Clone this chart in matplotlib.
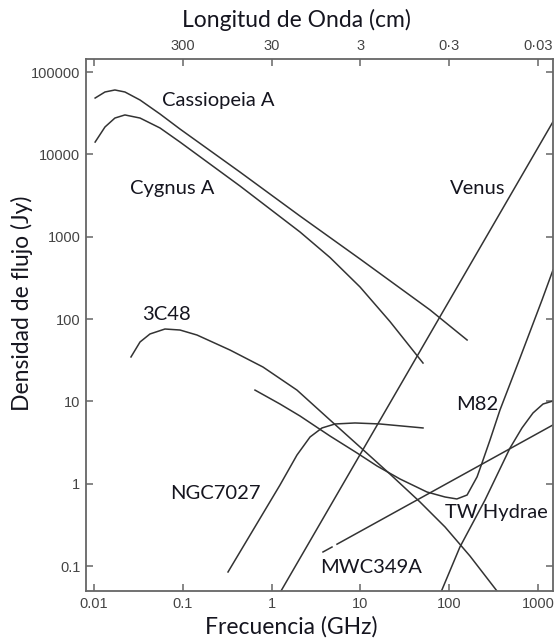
import matplotlib
matplotlib.use("Agg")
from matplotlib import pyplot as plt
from matplotlib.ticker import FixedLocator, NullLocator

plt.rcParams["font.family"] = ["Liberation Sans", "DejaVu Sans"]

# frequency (GHz) and flux density (Jy)
cas_f = [0.0103, 0.0133, 0.0172, 0.0223, 0.033, 0.0554, 0.093, 0.44, 2.09, 9.9, 60.8, 159]
cas_s = [48300, 57200, 60500, 57200, 45700, 30900, 20300, 6100, 1780, 536, 129, 55.6]

cyg_f = [0.0103, 0.0133, 0.0172, 0.0223, 0.033, 0.0554, 0.093, 0.44, 2.09, 4.55, 9.9, 21.5, 50.7]
cyg_s = [14100, 21500, 27600, 30100, 27600, 20900, 14100, 4130, 1140, 558, 245, 93.3, 29.2]

venus_f = [1.276, 1475]
venus_s = [0.0497, 24900]

c3c48_f = [0.0261, 0.033, 0.0427, 0.063, 0.093, 0.1445, 0.34, 0.80, 1.93, 4.55,
           9.9, 21.5, 46.9, 89.7, 171.5, 345]
c3c48_s = [34.6, 52.6, 65.8, 75.6, 73.5, 63.9, 42.0, 26.1, 13.7, 5.93,
           2.79, 1.31, 0.599, 0.298, 0.132, 0.0497]

m82_f = [0.65, 1.243, 2.088, 4.548, 9.157, 15.38, 27.92, 56.2, 89.7, 122, 159, 206, 234,
         288, 373, 627, 1109, 1475]
m82_s = [13.7, 9.28, 6.64, 3.79, 2.36, 1.64, 1.14, 0.792, 0.689, 0.652, 0.728, 1.21, 1.78,
         3.39, 7.85, 33.6, 170, 394]

ngc_f = [0.323, 1.243, 1.932, 2.71, 3.695, 5.18, 8.70, 16.6, 50.7]
ngc_s = [0.0846, 0.963, 2.23, 3.69, 4.75, 5.31, 5.46, 5.31, 4.75]

# small break in the line near 5 GHz
mwc_f = [3.79, 4.79, float("nan"), 5.45, 1475]
mwc_s = [0.148, 0.170, float("nan"), 0.184, 5.17]

tw_f = [82, 132, 253, 484, 660, 878, 1139, 1475]
tw_s = [0.05, 0.170, 0.633, 2.71, 4.75, 7.22, 9.28, 10.1]

labels = ["Cassiopeia A", "Cygnus A", "Venus", "3C48", "M82", "NGC7027", "TW Hydrae", "MWC349A"]
label_f = [0.0584, 0.0254, 102, 0.0347, 119, 0.0718, 89.8, 3.51]
label_s = [44500, 3900, 3900, 112, 9.28, 0.770, 0.441, 0.0946]

freq_ticks = [0.01, 0.1, 1, 10, 100, 1000]
freq_labels = ["0.01", "0.1", "1", "10", "100", "1000"]
flux_ticks = [0.1, 1, 10, 100, 1000, 10000, 100000]
flux_labels = ["0.1", "1", "10", "100", "1000", "10000", "100000"]
wave_cm = [3000, 300, 30, 3, 0.3, 0.03]
wave_labels = ["", "300", "30", "3", "0\u00b73", "0\u00b703"]

line_kw = dict(color="#333333", lw=1.1)
text_font = ["Lato", "DejaVu Sans"]
text_color = "#15151f"

fig = plt.figure(figsize=(5.56, 6.39), dpi=100)
ax = fig.add_axes([86 / 556, 48 / 639, 467 / 556, 532 / 639])

for f, s in [(cas_f, cas_s), (cyg_f, cyg_s), (venus_f, venus_s), (c3c48_f, c3c48_s),
             (m82_f, m82_s), (ngc_f, ngc_s), (mwc_f, mwc_s), (tw_f, tw_s)]:
    ax.plot(f, s, **line_kw)

for name, f, s in zip(labels, label_f, label_s):
    ax.text(f, s, name, ha="left", va="center", fontsize=14.5,
            family=text_font, color=text_color)

ax.set_xscale("log")
ax.set_yscale("log")
ax.set_xlim(0.00813, 1475)
ax.set_ylim(0.0497, 143900)

ax.xaxis.set_major_locator(FixedLocator(freq_ticks))
ax.xaxis.set_minor_locator(NullLocator())
ax.set_xticklabels(freq_labels)
ax.yaxis.set_major_locator(FixedLocator(flux_ticks))
ax.yaxis.set_minor_locator(NullLocator())
ax.set_yticklabels(flux_labels)

tick_kw = dict(direction="in", length=5, width=1.1, color="#666666",
               labelcolor="#444444", labelsize=10.5, pad=4)
ax.tick_params(axis="both", which="major", right=True, **tick_kw)

for sp in ax.spines.values():
    sp.set_color("#666666")
    sp.set_linewidth(1.3)

ax2 = ax.twiny()
ax2.set_xscale("log")
ax2.set_xlim(ax.get_xlim())
ax2.xaxis.set_major_locator(FixedLocator([30 / w for w in wave_cm]))
ax2.xaxis.set_minor_locator(NullLocator())
ax2.set_xticklabels(wave_labels)
ax2.tick_params(axis="x", which="major", **tick_kw)
for sp in ax2.spines.values():
    sp.set_visible(False)

ax.set_xlabel("Frecuencia (GHz)", fontsize=16.5, family=text_font, color=text_color)
ax.xaxis.set_label_coords(0.439, -0.068)
ax.xaxis.label.set_va("center")
ax.set_ylabel("Densidad de flujo (Jy)", fontsize=16.5, family=text_font, color=text_color)
ax.yaxis.set_label_coords(-0.137, 0.54)
ax.yaxis.label.set_va("center")
ax2.set_xlabel("Longitud de Onda (cm)", fontsize=16.5, family=text_font, color=text_color)
ax2.xaxis.set_label_coords(0.45, 1.073)
ax2.xaxis.label.set_va("center")

fig.savefig("out.png", dpi=100)
